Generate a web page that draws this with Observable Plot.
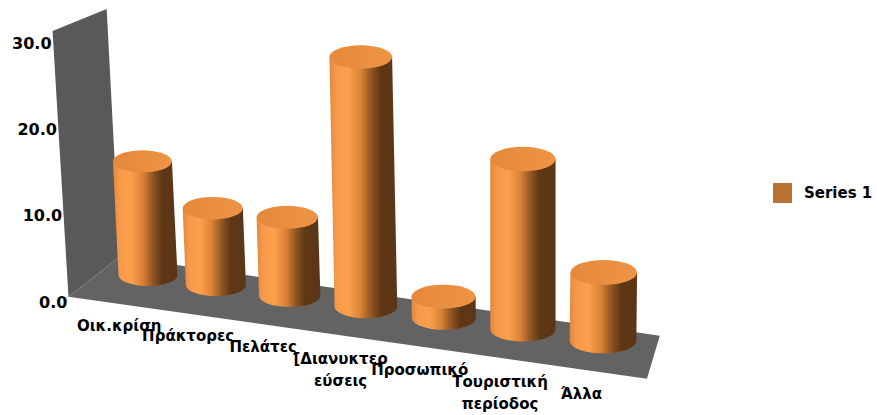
<!DOCTYPE html>
<html>
<head>
<meta charset="utf-8">
<script src="https://cdn.jsdelivr.net/npm/d3@7"></script>
<script src="https://cdn.jsdelivr.net/npm/@observablehq/plot@0.6"></script>
<style>
  html, body { margin: 0; padding: 0; background: #ffffff; }
  #chart { width: 877px; height: 415px; }
</style>
</head>
<body>
<div id="chart"></div>
<script>
// ---- data ----
const categories = ["Οικ.κρίση", "Πράκτορες", "Πελάτες", "[Διανυκτερ\nεύσεις", "Προσωπικό", "Τουριστική\nπερίοδος", "Άλλα"];
const values = [13.3, 8.8, 8.8, 27.5, 2.3, 18.0, 7.1];
const yTicks = [0, 10, 20, 30];
const seriesName = "Series 1";

const table = categories.map((c, i) => ({category: c, index: i, value: values[i]}));

// ---- 3D projection layout (perspective look) ----
const FLOOR_SLOPE = 0.145;       // floor falls toward the right
const PERSP = 0.000286;          // objects grow slightly toward the right
const DEPTH_GROW = 0.07;         // front is a bit larger than back
const BAR_DEPTH = 0.7;           // bars stand toward the back of the floor
const VANISH = [523, 7900];      // vertical vanishing point (far below)
const FLOOR_RANGE = [-0.66, 6.655]; // floor extent in category-index units

function makeProjection(x, y) {
  const x0 = x(0), y0 = y(0);
  const depthVec = u => {
    const t = (u - 94) / (653 - 94);
    return [52 - 39 * t, -40 - 3 * t];
  };
  return (xi, v, d) => {
    const u = x(xi);
    const [dx, dy] = depthVec(u);
    const s = 1 + PERSP * (u - x0);
    const bx = u + (d - BAR_DEPTH) * dx;
    const by = y0 + FLOOR_SLOPE * (u - x0) + (d - BAR_DEPTH) * dy;
    const h = (y0 - y(v)) * s * (1 + (0.5 - d) * DEPTH_GROW);
    const X = bx - h * (VANISH[0] - bx) / (VANISH[1] - by);
    return [X, by - h, s, by, u - x0];
  };
}

const FONT = 'bold 15px "DejaVu Sans", Verdana, sans-serif';
const FONT_Y = 'bold 16px "DejaVu Sans", Verdana, sans-serif';

function scene(index, scales, vals, dims) {
  const {x, y} = scales;
  const P = makeProjection(x, y);
  const g = d3.create("svg:g");
  const defs = g.append("defs");
  const grad = defs.append("linearGradient").attr("id", "cylSide")
    .attr("x1", 0).attr("x2", 1).attr("y1", 0).attr("y2", 0);
  [[0, "#E2873A"], [0.1, "#F7994A"], [0.28, "#FCA04D"], [0.46, "#DA8236"],
   [0.62, "#8E5521"], [0.76, "#5E3715"], [1, "#5B3617"]]
    .forEach(([o, c]) => grad.append("stop").attr("offset", o).attr("stop-color", c));
  const topGrad = defs.append("linearGradient").attr("id", "cylTop")
    .attr("x1", 0).attr("x2", 1).attr("y1", 0).attr("y2", 0);
  [[0, "#E4893C"], [1, "#EE9444"]]
    .forEach(([o, c]) => topGrad.append("stop").attr("offset", o).attr("stop-color", c));

  const poly = pts => "M" + pts.map(p => p[0].toFixed(2) + "," + p[1].toFixed(2)).join("L") + "Z";
  const [FL, FR] = FLOOR_RANGE;
  const yMax = d3.max(yTicks);

  // side wall
  g.append("path")
    .attr("d", poly([P(FL, 0, 0), P(FL, yMax, 0), P(FL, yMax, 1), P(FL, 0, 1)]))
    .attr("fill", "#595959");
  // floor
  g.append("path")
    .attr("d", poly([P(FL, 0, 0), P(FR, 0, 0), P(FR, 0, 1), P(FL, 0, 1)]))
    .attr("fill", "#636363");

  // cylinders
  for (const d of table) {
    const [bx, by, s] = P(d.index, 0, BAR_DEPTH);
    const [tx, ty] = P(d.index, d.value, BAR_DEPTH);
    const rx = 29.5 * s, ry = 11 * s;
    g.append("path")
      .attr("d", `M${bx - rx},${by} A${rx},${ry} 0 0 0 ${bx + rx},${by} L${tx + rx},${ty} L${tx - rx},${ty} Z`)
      .attr("fill", "url(#cylSide)");
    g.append("ellipse")
      .attr("cx", tx).attr("cy", ty).attr("rx", rx).attr("ry", ry)
      .attr("fill", "url(#cylTop)");
  }

  // value axis labels along the wall front edge
  for (const v of yTicks) {
    const [X, Y, , base] = P(FL, v, 0);
    g.append("text")
      .attr("x", X - 1).attr("y", Y + 6.5 + (base - Y) * 0.025)
      .attr("text-anchor", "end").attr("dominant-baseline", "middle")
      .style("font", FONT_Y).attr("fill", "#000")
      .text(d3.format(".1f")(v));
  }

  // category labels along the floor front edge
  for (const d of table) {
    const [X, Y, , , off] = P(d.index, 0, 0);
    const t = g.append("text")
      .attr("text-anchor", "middle").attr("dominant-baseline", "middle")
      .style("font", FONT).attr("fill", "#000");
    d.category.split("\n").forEach((line, k) => {
      t.append("tspan").attr("x", X + 5 - off * 0.033).attr("y", Y + 23 + k * 22).text(line);
    });
  }

  // legend
  const lx = dims.width - 104, ly = 183;
  g.append("rect").attr("x", lx).attr("y", ly).attr("width", 19).attr("height", 20).attr("fill", "#BA7232");
  g.append("text").attr("x", lx + 31).attr("y", ly + 10)
    .attr("text-anchor", "start")
    .attr("dominant-baseline", "middle").style("font", FONT).attr("fill", "#000")
    .text(seriesName);

  return g.node();
}

const chart = Plot.plot({
  width: 877,
  height: 415,
  margin: 0,
  x: {type: "pow", exponent: 1.062, domain: [0, 6], range: [148, 603], axis: null},
  y: {domain: [0, 30], range: [275, 15], axis: null},
  marks: [
    Plot.ruleX(table, {x: "index", y1: 0, y2: "value", strokeOpacity: 0}),
    scene
  ]
});
document.getElementById("chart").appendChild(chart);
</script>
</body>
</html>
